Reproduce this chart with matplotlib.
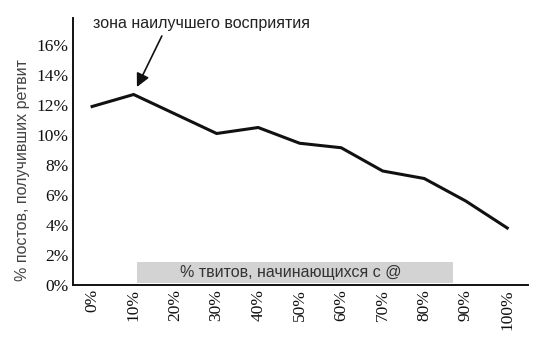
import matplotlib
matplotlib.use('Agg')
import matplotlib.pyplot as plt
from matplotlib.patches import Rectangle
from matplotlib.ticker import FuncFormatter, MultipleLocator

# data
categories = ['0%', '10%', '20%', '30%', '40%', '50%', '60%', '70%', '80%', '90%', '100%']
retweet_share = [11.9, 12.7, 11.4, 10.1, 10.5, 9.45, 9.15, 7.6, 7.1, 5.6, 3.8]

annot_text = 'зона наилучшего восприятия'
xlabel_text = '% твитов, начинающихся с @'
ylabel_text = '% постов, получивших ретвит'

SANS = 'Liberation Sans'
SERIF = 'Liberation Serif'

fig = plt.figure(figsize=(5.39, 3.49), dpi=100)
ax = fig.add_axes([73/539, 1 - 285/349, (528 - 73)/539, (285 - 18)/349])

x = list(range(len(categories)))
ax.plot(x, retweet_share, color='#111111', lw=2.2, solid_joinstyle='miter')

ax.set_xlim(-0.46, 10.5)
ax.set_ylim(0, 17.8)
ax.yaxis.set_major_locator(MultipleLocator(2))
ax.yaxis.set_major_formatter(FuncFormatter(lambda v, p: '%d%%' % v if v <= 16 else ''))
ax.set_xticks(x)
ax.set_xticklabels(categories, rotation=90, fontfamily=SERIF, fontsize=12.5)
for lab in ax.get_yticklabels():
    lab.set_fontfamily(SERIF)
    lab.set_fontsize(12.5)
ax.tick_params(length=0, pad=3, colors='#111111')

for s in ['top', 'right']:
    ax.spines[s].set_visible(False)
for s in ['left', 'bottom']:
    ax.spines[s].set_linewidth(1.4)
    ax.spines[s].set_color('#111111')

ax.set_ylabel(ylabel_text, fontfamily=SANS, fontsize=11.5, color='#444444')
ax.yaxis.set_label_coords(-0.095, 0.43)

# gray band with the x caption
ax.add_patch(Rectangle((0.141, 0.008), 0.694, 0.08, transform=ax.transAxes,
                       fc='#d3d3d3', ec='none', zorder=1))
ax.text(0.478, 0.046, xlabel_text, transform=ax.transAxes, ha='center', va='center',
        fontfamily=SANS, fontsize=11.5, color='#333333', zorder=2)

ax.text(0.02, 17.45, annot_text, ha='left', va='center',
        fontfamily=SANS, fontsize=11.5, color='#222222')
ax.annotate('', xy=(1.08, 13.2), xytext=(1.68, 16.6),
            arrowprops=dict(arrowstyle='-|>', color='#111111', lw=1.2,
                            mutation_scale=20, shrinkA=0, shrinkB=0),
            annotation_clip=False)

fig.savefig('out.png', dpi=100)
